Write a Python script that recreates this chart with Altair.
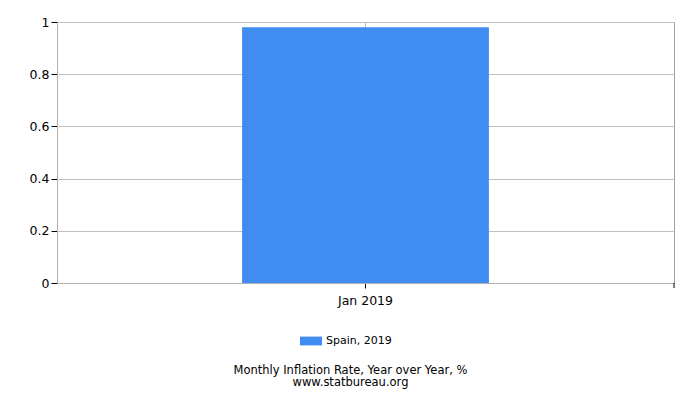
import altair as alt
import pandas as pd

months = ["Jan 2019"]
values = [0.98]
series = ["Spain, 2019"]

df = pd.DataFrame({"month": months, "value": values, "series": series * len(months)})

FONT = "DejaVu Sans"
W, H = 617, 261

bars = alt.Chart(df).mark_bar(color="#418cf0").encode(
    x=alt.X("month:N", title=None,
            scale=alt.Scale(paddingOuter=0.75, paddingInner=0),
            axis=alt.Axis(labelAngle=0, labelFontSize=12.5, labelColor="#000000", labelFont=FONT,
                          tickColor="#000000", tickSize=5, domainColor="#b0b0b0",
                          grid=True, gridColor="#c0c0c0", labelPadding=6)),
    y=alt.Y("value:Q", title=None,
            scale=alt.Scale(domain=[0, 1], nice=False),
            axis=alt.Axis(values=[0, 0.2, 0.4, 0.6, 0.8, 1], format="~g", labelFontSize=12.5,
                          labelColor="#000000", labelFont=FONT, tickColor="#000000", tickSize=6,
                          labelPadding=2, domainColor="#b0b0b0", gridColor="#c0c0c0")),
    fill=alt.Fill("series:N", scale=alt.Scale(range=["#418cf0"]),
                  legend=alt.Legend(title=None, orient="none", legendX=243, legendY=308,
                                    symbolType="M-1,-0.4L1,-0.4L1,0.4L-1,0.4Z", symbolSize=484,
                                    symbolStrokeWidth=0, labelFontSize=11, labelFont=FONT,
                                    labelColor="#000000", padding=0, labelOffset=4)),
)

edge_tick = alt.Chart(df).mark_rule(color="#000000").encode(
    x=alt.value(W), y=alt.value(H), y2=alt.value(H + 5)
)

chart = alt.layer(bars, edge_tick).properties(
    width=W, height=H,
    autosize=alt.AutoSizeParams(type="none"),
    padding={"left": 49, "top": 14, "right": 18, "bottom": 109},
    title=alt.TitleParams(
        text="Monthly Inflation Rate, Year over Year, %",
        subtitle="www.statbureau.org",
        orient="bottom", anchor="middle", frame="group", offset=19, dx=-15,
        font=FONT, fontSize=11.5, fontWeight="normal", color="#000000",
        subtitleFont=FONT, subtitleFontSize=11.5, subtitleColor="#000000", subtitlePadding=0,
    ),
).configure_view(stroke="#a0a0a0")

chart.save("out.html", embed_options={"renderer": "svg", "actions": False})
